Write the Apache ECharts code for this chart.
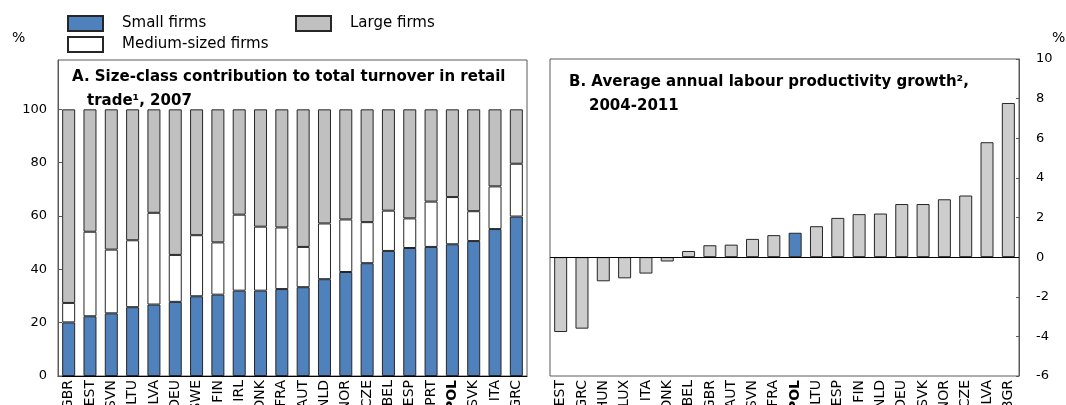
<!DOCTYPE html>
<html>
<head>
<meta charset="utf-8">
<script src="https://cdn.jsdelivr.net/npm/echarts@6/dist/echarts.min.js"></script>
<style>
  html, body { margin: 0; padding: 0; background: #fff; }
  #chart { width: 1066px; height: 405px; }
</style>
</head>
<body>
<div id="chart"></div>
<script>
// Panel A: size-class contribution to retail turnover, 2007 (%)
const countriesA = ['GBR','EST','SVN','LTU','LVA','DEU','SWE','FIN','IRL','DNK','FRA','AUT','NLD','NOR','CZE','BEL','ESP','PRT','POL','SVK','ITA','GRC'];
const smallFirms  = [20.1,22.4,23.5,25.8,26.8,27.8,29.9,30.5,32.0,32.0,32.6,33.3,36.3,39.0,42.3,46.9,48.0,48.4,49.4,50.6,55.1,59.8];
const mediumFirms = [7.3,31.7,23.9,25.1,34.4,17.6,22.9,19.6,28.5,24.0,23.1,15.1,20.9,19.7,15.4,15.1,11.1,17.0,17.7,11.2,16.0,19.8];
const largeFirms  = [72.6,45.9,52.6,49.1,38.8,54.6,47.2,49.9,39.5,44.0,44.3,51.6,42.8,41.3,42.3,38.0,40.9,34.6,32.9,38.2,28.9,20.4];

// Panel B: average annual labour productivity growth, 2004-2011 (%)
const countriesB = ['EST','GRC','HUN','LUX','ITA','DNK','BEL','GBR','AUT','SVN','FRA','POL','LTU','ESP','FIN','NLD','DEU','SVK','NOR','CZE','LVA','BGR'];
const productivityGrowth = [-3.78,-3.61,-1.22,-1.07,-0.83,-0.22,0.31,0.60,0.63,0.92,1.11,1.23,1.56,1.98,2.17,2.20,2.68,2.68,2.92,3.11,5.80,7.78];

const highlight = 'POL';
const FONT = 'DejaVu Sans';
const BLUE = '#4F81BD';
const GREY_A = '#C0C0C0';
const GREY_B = '#CDCDCD';
const FRAME = '#5a5a5a';

const chart = echarts.init(document.getElementById('chart'), null, { renderer: 'canvas' });

function catLabel(v) { return v === highlight ? '{b|' + v + '}' : v; }
const catLabelStyle = {
  interval: 0, rotate: 90, margin: 4, color: '#000', fontFamily: FONT, fontSize: 14,
  formatter: catLabel,
  rich: { b: { fontWeight: 'bold', fontFamily: FONT, fontSize: 14, color: '#000' } }
};
const barBorder = { borderColor: '#262626', borderWidth: 1 };
const legendText = { fontFamily: FONT, fontSize: 15, color: '#000', padding: [0, 0, 0, 14] };
const titleText = { fontFamily: FONT, fontSize: 15, fontWeight: 'bold', color: '#000', lineHeight: 18 };

const option = {
  animation: false,
  backgroundColor: '#fff',
  textStyle: { fontFamily: FONT },
  title: [
    { text: 'A. Size-class contribution to total turnover in retail', left: 67, top: 63, textStyle: titleText },
    { text: 'trade\u00B9, 2007', left: 82, top: 87, textStyle: titleText },
    { text: 'B. Average annual labour productivity growth\u00B2,', left: 564, top: 68, textStyle: titleText },
    { text: '2004-2011', left: 584, top: 92, textStyle: titleText }
  ],
  legend: [
    { data: ['Small firms'], left: 67, top: 15, itemWidth: 35, itemHeight: 15, padding: 0,
      icon: 'rect', textStyle: legendText, selectedMode: false },
    { data: ['Large firms'], left: 295, top: 15, itemWidth: 35, itemHeight: 15, padding: 0,
      icon: 'rect', textStyle: legendText, selectedMode: false },
    { data: ['Medium-sized firms'], left: 67, top: 36, itemWidth: 35, itemHeight: 15, padding: 0,
      icon: 'rect', textStyle: legendText, selectedMode: false }
  ],
  graphic: [
    { type: 'text', left: 12, top: 31, style: { text: '%', font: '14px "DejaVu Sans"', fill: '#000' } },
    { type: 'text', left: 1052, top: 31, style: { text: '%', font: '14px "DejaVu Sans"', fill: '#000' } }
  ],
  grid: [
    { left: 58, right: 539, top: 60, bottom: 29, show: true, borderColor: FRAME, borderWidth: 1,
      backgroundColor: 'transparent', containLabel: false, outerBoundsMode: 'none' },
    { left: 550, right: 47, top: 59, bottom: 29, show: true, borderColor: FRAME, borderWidth: 1,
      backgroundColor: 'transparent', containLabel: false, outerBoundsMode: 'none' }
  ],
  xAxis: [
    { type: 'category', gridIndex: 0, data: countriesA,
      axisLine: { show: true, lineStyle: { color: '#000', width: 1 } },
      axisTick: { show: false }, axisLabel: catLabelStyle },
    { type: 'category', gridIndex: 1, data: countriesB,
      axisLine: { show: false, onZero: false },
      axisTick: { show: false }, axisLabel: catLabelStyle }
  ],
  yAxis: [
    { type: 'value', gridIndex: 0, min: 0, max: 118.5, interval: 20,
      axisLine: { show: true, lineStyle: { color: FRAME } },
      axisTick: { show: true, inside: true, length: 4, lineStyle: { color: FRAME } },
      splitLine: { show: false },
      axisLabel: { margin: 11, color: '#000', fontFamily: FONT, fontSize: 13, showMaxLabel: false,
        formatter: v => (v > 100 ? '' : String(v)) } },
    { type: 'value', gridIndex: 1, position: 'right', min: -6, max: 10, interval: 2,
      axisLine: { show: true, lineStyle: { color: FRAME } },
      axisTick: { show: true, inside: true, length: 3, lineStyle: { color: FRAME } },
      splitLine: { show: false },
      axisLabel: { margin: 17, color: '#000', fontFamily: FONT, fontSize: 13 } }
  ],
  series: [
    { name: 'Small firms', type: 'bar', stack: 'size', xAxisIndex: 0, yAxisIndex: 0,
      data: smallFirms, barWidth: 13, itemStyle: Object.assign({ color: BLUE }, barBorder) },
    { name: 'Medium-sized firms', type: 'bar', stack: 'size', xAxisIndex: 0, yAxisIndex: 0,
      data: mediumFirms, barWidth: 13, itemStyle: Object.assign({ color: '#FFFFFF' }, barBorder) },
    { name: 'Large firms', type: 'bar', stack: 'size', xAxisIndex: 0, yAxisIndex: 0,
      data: largeFirms, barWidth: 13, itemStyle: Object.assign({ color: GREY_A }, barBorder) },
    { name: 'Labour productivity growth', type: 'bar', xAxisIndex: 1, yAxisIndex: 1,
      data: productivityGrowth, barWidth: 13,
      itemStyle: Object.assign({
        color: p => (countriesB[p.dataIndex] === highlight ? BLUE : GREY_B)
      }, barBorder),
      markLine: { silent: true, symbol: 'none', label: { show: false },
        lineStyle: { color: '#000', width: 1, type: 'solid' },
        data: [{ yAxis: 0 }] } }
  ]
};

chart.setOption(option);
</script>
</body>
</html>
